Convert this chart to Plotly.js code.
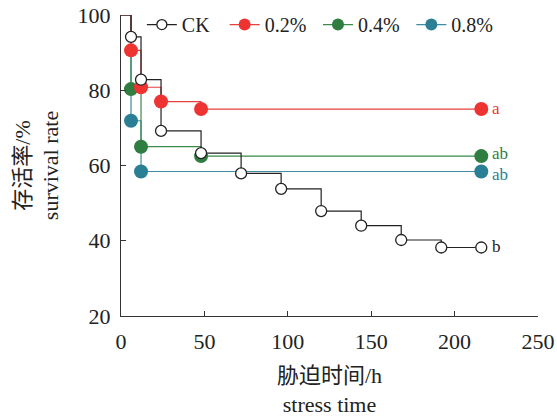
<!DOCTYPE html>
<html><head><meta charset="utf-8">
<script src="https://cdn.plot.ly/plotly-3.0.1.min.js"></script>
<style>html,body{margin:0;padding:0;background:#fff}#c{width:557px;height:417px}</style>
</head><body><div id="c"></div>
<script>
var ckTime = [0, 6, 12, 24, 48, 72, 96, 120, 144, 168, 192, 216];
var ckRate = [100, 94.2, 82.8, 69.2, 63.3, 57.9, 53.8, 47.9, 44.0, 40.2, 38.2, 38.2];
var t02Time = [0, 6, 12, 24, 48, 216];
var t02Rate = [100, 90.6, 80.8, 77.0, 75.0, 75.0];
var t04Time = [0, 6, 12, 48, 216];
var t04Rate = [100, 80.3, 65.0, 62.5, 62.5];
var t08Time = [0, 6, 12, 216];
var t08Rate = [100, 71.9, 58.4, 58.4];
var seriesNames = ['CK', '0.2%', '0.4%', '0.8%'];
var letters = ['b', 'a', 'ab', 'ab'];

var FONT = "'Liberation Serif', 'Times New Roman', 'Noto Sans CJK SC', serif";
var colors = ['#222222', '#ee3433', '#2f7d40', '#2a7f95'];
var lineColors = ['#222222', '#e8403f', '#3a8a4a', '#3f8ca2'];
var pads = ['\u00a0\u00a0', '\u00a0\u200a', '\u00a0\u200a', '\u00a0'];
var sets = [[ckTime, ckRate], [t02Time, t02Rate], [t04Time, t04Rate], [t08Time, t08Rate]];
var order = [3, 2, 1, 0];
var traces = [];
order.forEach(function(i){
  traces.push({x: sets[i][0], y: sets[i][1], mode: 'lines', line: {shape: 'hv', color: lineColors[i], width: 1.2}, showlegend: false, hoverinfo: 'skip'});
});
order.forEach(function(i){
  var isCK = i === 0;
  traces.push({x: sets[i][0].slice(1), y: sets[i][1].slice(1), mode: 'markers', showlegend: false,
    marker: {size: isCK ? 11 : 14, color: isCK ? '#ffffff' : colors[i], line: {color: colors[i], width: isCK ? 1.3 : 0}}});
});
[0,1,2,3].forEach(function(i){
  var isCK = i === 0;
  traces.push({x: [null], y: [null], mode: 'lines+markers', name: seriesNames[i] + pads[i],
    line: {color: lineColors[i], width: 1.2},
    marker: {size: isCK ? 10 : 12, color: isCK ? '#ffffff' : colors[i], line: {color: colors[i], width: isCK ? 1.3 : 0}}});
});
var yShifts = [1, 1, 3, -3];
var annotations = [0,1,2,3].map(function(i){
  var s = sets[i];
  return {x: s[0][s[0].length-1], y: s[1][s[1].length-1], text: letters[i], showarrow: false,
    xanchor: 'left', xshift: 9, yshift: yShifts[i], font: {family: FONT, size: 17, color: colors[i]}};
});
var layout = {
  width: 557, height: 417,
  margin: {l: 121, r: 19, t: 15, b: 101, autoexpand: false},
  paper_bgcolor: '#fff', plot_bgcolor: '#fff',
  font: {family: FONT, size: 22, color: '#222'},
  showlegend: true,
  legend: {orientation: 'h', x: 0.05, y: 1.033, xanchor: 'left', yanchor: 'top',
    font: {family: FONT, size: 20, color: '#222'}, bgcolor: 'rgba(0,0,0,0)', itemwidth: 30, traceorder: 'normal'},
  xaxis: {range: [0, 250], tickvals: [0, 50, 100, 150, 200, 250], ticks: 'inside', ticklen: 5, tickcolor: '#333',
    showline: true, linecolor: '#333', linewidth: 1.2, showgrid: false, zeroline: false, fixedrange: true,
    ticklabelstandoff: 5,
    tickfont: {family: FONT, size: 22, color: '#222'},
    title: {text: '胁迫时间/h<br>stress time', font: {family: FONT, size: 22, color: '#222'}, standoff: 22}},
  yaxis: {range: [20, 100], tickvals: [20, 40, 60, 80, 100], ticks: 'inside', ticklen: 5, tickcolor: '#333',
    showline: true, linecolor: '#333', linewidth: 1.2, showgrid: false, zeroline: false, fixedrange: true,
    ticklabelstandoff: 5,
    tickfont: {family: FONT, size: 22, color: '#222'},
    title: {text: '存活率/%<br>survival rate', font: {family: FONT, size: 22, color: '#222'}, standoff: 12}},
  annotations: annotations
};
Plotly.newPlot('c', traces, layout, {displayModeBar: false, staticPlot: true});
</script></body></html>
